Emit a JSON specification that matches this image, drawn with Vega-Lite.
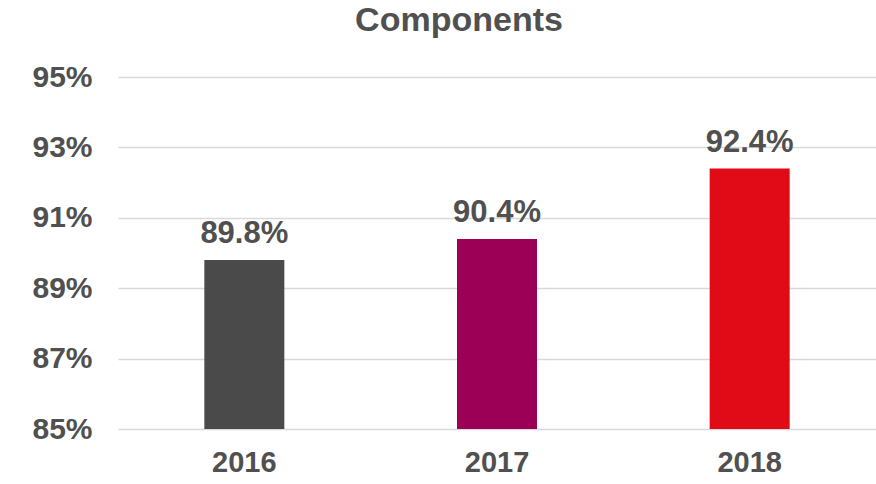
{
  "$schema": "https://vega.github.io/schema/vega-lite/v6.json",
  "width": 758,
  "height": 352,
  "autosize": {"type": "none"},
  "padding": {"left": 118, "top": 77, "right": 0, "bottom": 55},
  "background": "white",
  "title": {
    "text": "Components",
    "anchor": "middle",
    "font": "Liberation Sans",
    "fontSize": 34,
    "fontWeight": "bold",
    "color": "#505050",
    "baseline": "alphabetic",
    "offset": -3,
    "dx": -38
  },
  "config": {"view": {"stroke": null}},
  "data": {
    "values": [
      {"year": "2016", "value": 0.898, "label": "89.8%"},
      {"year": "2017", "value": 0.904, "label": "90.4%"},
      {"year": "2018", "value": 0.924, "label": "92.4%"}
    ]
  },
  "encoding": {
    "x": {
      "field": "year",
      "type": "nominal",
      "scale": {"paddingInner": 0, "paddingOuter": 0},
      "axis": {
        "title": null,
        "labelAngle": 0,
        "domain": false,
        "ticks": false,
        "labelPadding": 19,
        "labelFont": "Liberation Sans",
        "labelFontSize": 29,
        "labelFontWeight": "bold",
        "labelColor": "#505050"
      }
    },
    "y": {
      "field": "value",
      "type": "quantitative",
      "scale": {"domain": [0.85, 0.95], "zero": false, "nice": false},
      "axis": {
        "title": null,
        "values": [0.85, 0.87, 0.89, 0.91, 0.93, 0.95],
        "format": ".0%",
        "domain": false,
        "ticks": false,
        "labelPadding": 26,
        "labelFont": "Liberation Sans",
        "labelFontSize": 30,
        "labelFontWeight": "bold",
        "labelColor": "#505050",
        "grid": true,
        "gridColor": "#d9d9d9",
        "gridWidth": 1.5
      }
    }
  },
  "layer": [
    {
      "mark": {"type": "bar", "size": 80},
      "encoding": {
        "y2": {"datum": 0.85},
        "color": {
          "field": "year",
          "type": "nominal",
          "scale": {"domain": ["2016", "2017", "2018"], "range": ["#4a4a4a", "#9b0056", "#e10a17"]},
          "legend": null
        }
      }
    },
    {
      "mark": {
        "type": "text",
        "baseline": "alphabetic",
        "dy": -17,
        "font": "Liberation Sans",
        "fontSize": 31,
        "fontWeight": "bold",
        "color": "#505050"
      },
      "encoding": {"text": {"field": "label"}}
    }
  ]
}
